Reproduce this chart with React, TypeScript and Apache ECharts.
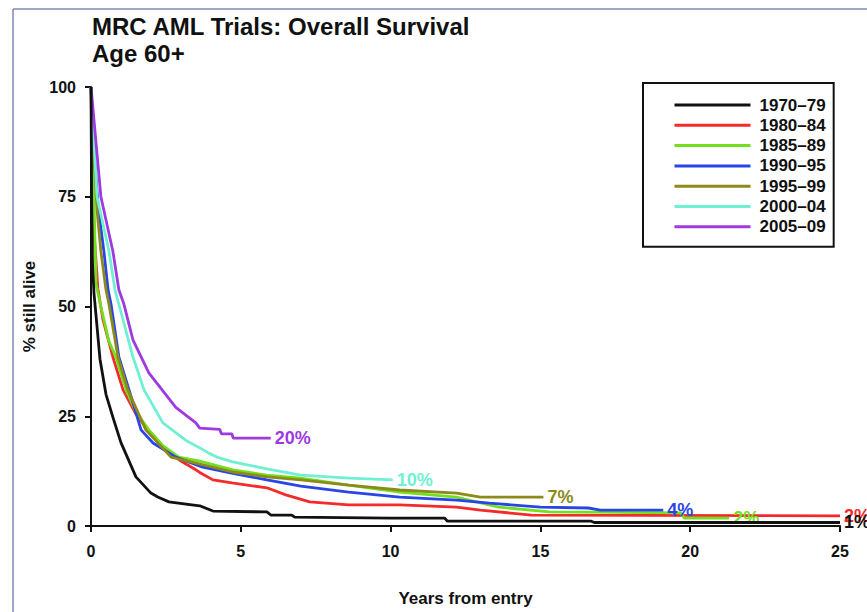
import React, { useEffect, useRef } from "react";
import * as echarts from "echarts";

const titleLines = ["MRC AML Trials: Overall Survival", "Age 60+"];
const seriesNames = ["1970–79", "1980–84", "1985–89", "1990–95", "1995–99", "2000–04", "2005–09"];
const seriesColors = ["#111111", "#f52a2a", "#72e01e", "#2a45e6", "#8c8a1a", "#6ff0d2", "#9e3ae0"];
const endLabels = ["1%", "2%", "2%", "4%", "7%", "10%", "20%"];
const xTicks = [0, 5, 10, 15, 20, 25];
const yTicks = [0, 25, 50, 75, 100];

const s1970 = [[0,100],[0.02,75],[0.05,60],[0.1,53],[0.3,38],[0.5,30],[0.73,24.8],[1,19],[1.5,11.2],[2,7.5],[2.23,6.6],[2.6,5.5],[3.17,5.0],[3.63,4.6],[4.07,3.4],[5.87,3.2],[6.0,2.5],[6.7,2.5],[6.8,2.0],[10,1.8],[11.8,1.8],[11.9,1.1],[16.7,1.1],[16.8,0.8],[25,0.8]];
const s1980 = [[0,100],[0.05,80],[0.12,65],[0.23,54],[0.4,47],[0.73,38.5],[1.07,31],[1.5,25.5],[1.9,21.9],[2.4,18],[3,14.8],[3.5,12.8],[3.63,12.2],[4.07,10.5],[4.7,9.8],[5.87,8.7],[6.5,7.1],[7.3,5.5],[8.6,4.8],[10.3,4.8],[12.2,4.3],[13,3.6],[14.7,2.5],[25,2.3]];
const s1985 = [[0,100],[0.05,85],[0.12,68],[0.17,55],[0.33,50],[0.6,42],[0.83,38.5],[1.17,31],[1.5,26],[1.93,21.9],[2.4,18.3],[2.93,15.7],[3.63,14.8],[4.73,12.8],[5.87,11.6],[7,10.9],[8.6,9.3],[10.3,7.7],[12.2,6.6],[13.6,4.3],[15.3,3.2],[19.7,3.0],[19.8,1.8],[21.3,1.8]];
const s1990 = [[0,100],[0.1,85],[0.25,72],[0.43,62.6],[0.57,53.8],[0.67,50.5],[0.93,38.5],[1.27,31],[1.67,21.9],[2.07,18.9],[2.83,15.7],[3.73,13.4],[4.73,12],[5.87,10.5],[7,9.1],[8.6,7.7],[10.3,6.6],[12.2,5.9],[13.3,5.2],[15,4.3],[16.6,4.1],[17,3.6],[19.1,3.6]];
const s1995 = [[0,100],[0.1,85],[0.2,72],[0.33,62.6],[0.5,53.8],[0.6,50.5],[0.9,38.5],[1.23,31],[1.83,21.9],[2.67,15.7],[3.5,14.3],[4.73,12.3],[5.87,11.2],[7,10.5],[8.6,9.3],[10.3,8.2],[12.2,7.5],[13,6.6],[15.1,6.6]];
const s2000 = [[0,100],[0.2,75],[0.6,62.6],[0.8,53.8],[0.95,50],[1.4,38.5],[1.77,31],[2.4,23.5],[3.17,19.5],[3.63,17.8],[3.93,16.6],[4.2,15.7],[4.73,14.6],[5.87,13],[7,11.6],[8.6,10.9],[10.07,10.5]];
const s2005 = [[0,100],[0.33,75],[0.73,62.6],[0.93,53.8],[1.1,50.5],[1.4,42.4],[1.93,34.9],[2.83,27],[3.5,23.5],[3.63,22.3],[4.3,22],[4.35,21],[4.7,21],[4.75,20],[6.0,20]];
const allSeries = [s1970, s1980, s1985, s1990, s1995, s2000, s2005];

const FONT = "'Liberation Sans', Arial, Helvetica, sans-serif";

export default function App() {
  const ref = useRef<HTMLDivElement>(null);
  useEffect(() => {
    if (!ref.current) return;
    const chart = echarts.init(ref.current, null, { renderer: "svg" });
    chart.setOption({
      animation: false,
      backgroundColor: "#ffffff",
      textStyle: { fontFamily: FONT },
      title: {
        text: titleLines.join("\n"),
        left: 92,
        top: 13,
        padding: 0,
        textStyle: { fontFamily: FONT, fontSize: 24, fontWeight: "bold", color: "#111", lineHeight: 27 },
      },
      graphic: [
        { type: "line", shape: { x1: 13, y1: 9, x2: 13, y2: 612 }, style: { stroke: "#8088b8", lineWidth: 1.5 } },
        { type: "line", shape: { x1: 13, y1: 9, x2: 867, y2: 9 }, style: { stroke: "#8088b8", lineWidth: 1.5 } },
      ],
      legend: {
        data: seriesNames,
        orient: "vertical",
        left: 643,
        top: 83,
        padding: [12, 8, 10, 30],
        borderColor: "#111",
        borderWidth: 2,
        itemWidth: 76,
        itemHeight: 20,
        itemGap: 0.3,
        itemStyle: { opacity: 0 },
        lineStyle: { width: 3 },
        textStyle: { fontFamily: FONT, fontSize: 17, lineHeight: 20, fontWeight: "bold", color: "#111", padding: [0, 0, 0, 4] },
      },
      grid: { left: 91, right: 27, top: 87, bottom: 86 },
      xAxis: {
        type: "value",
        min: 0,
        max: 25,
        interval: 5,
        name: "Years from entry",
        nameLocation: "middle",
        nameGap: 64,
        nameTextStyle: { fontFamily: FONT, fontSize: 17, fontWeight: "bold", color: "#111" },
        axisLine: { show: true, lineStyle: { color: "#111", width: 2 } },
        axisTick: { show: true, length: 6, lineStyle: { color: "#111", width: 2 } },
        axisLabel: {
          fontFamily: FONT, fontSize: 16, fontWeight: "bold", color: "#111", margin: 17,
          formatter: (v: number) => (xTicks.includes(v) ? String(v) : ""),
        },
        splitLine: { show: false },
      },
      yAxis: {
        type: "value",
        min: 0,
        max: 100,
        interval: 25,
        name: "% still alive",
        nameLocation: "middle",
        nameGap: 52,
        nameTextStyle: { fontFamily: FONT, fontSize: 17, fontWeight: "bold", color: "#111" },
        axisLine: { show: true, lineStyle: { color: "#111", width: 2 } },
        axisTick: { show: true, length: 6, lineStyle: { color: "#111", width: 2 } },
        axisLabel: {
          fontFamily: FONT, fontSize: 16, fontWeight: "bold", color: "#111", margin: 15,
          formatter: (v: number) => (yTicks.includes(v) ? String(v) : ""),
        },
        splitLine: { show: false },
      },
      series: seriesNames.map((name, i) => ({
        name,
        type: "line",
        data: allSeries[i],
        symbol: "none",
        color: seriesColors[i],
        lineStyle: { color: seriesColors[i], width: 2.8 },
        z: 2 + (i === 0 ? 7 : i),
        endLabel: {
          show: true,
          formatter: endLabels[i],
          color: seriesColors[i],
          fontFamily: FONT,
          fontSize: 18,
          fontWeight: "bold",
          distance: 4,
        },
      })),
    });
    return () => chart.dispose();
  }, []);
  return <div ref={ref} style={{ position: "fixed", left: 0, top: 0, width: 867, height: 612 }} />;
}
